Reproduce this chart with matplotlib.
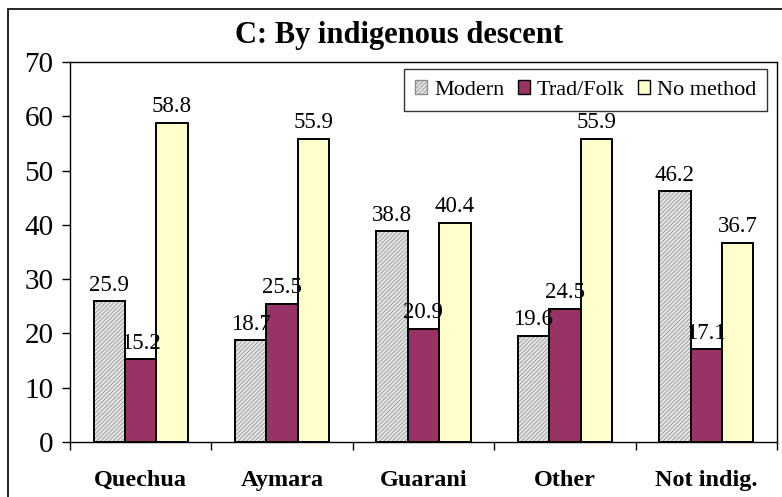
import matplotlib
matplotlib.use("Agg")
import matplotlib.pyplot as plt
from matplotlib.patches import Patch, Rectangle
import numpy as np

plt.rcParams['font.family'] = ['Liberation Serif', 'DejaVu Serif']
plt.rcParams['hatch.linewidth'] = 0.5

categories = ['Quechua', 'Aymara', 'Guarani', 'Other', 'Not indig.']
modern = [25.9, 18.7, 38.8, 19.6, 46.2]
trad = [15.2, 25.5, 20.9, 24.5, 17.1]
no_method = [58.8, 55.9, 40.4, 55.9, 36.7]
series_names = ['Modern', 'Trad/Folk', 'No method']

fig = plt.figure(figsize=(7.82, 4.97), dpi=100)
ax = fig.add_axes([70 / 782, 1 - 442 / 497, 707 / 782, 380 / 497])

# outer chart border
fig.patches.append(Rectangle((8 / 782, -0.05), 1.0, 1 - 9 / 497 + 0.05,
                             transform=fig.transFigure, fill=False,
                             edgecolor='black', linewidth=1.2))

x = np.arange(len(categories))
w = 1 / 4.5
hatch = '////////'

# modern: hatched grey
ax.bar(x - w, modern, w, color='#e4e4e4', edgecolor='#8c8c8c', hatch=hatch,
       linewidth=0, zorder=2)
ax.bar(x - w, modern, w, fill=False, edgecolor='black', linewidth=1.4, zorder=3)
ax.bar(x, trad, w, color='#993366', edgecolor='black', linewidth=1.4, zorder=3)
ax.bar(x + w, no_method, w, color='#ffffcc', edgecolor='black', linewidth=1.4, zorder=3)

for off, vals in zip([-w, 0, w], [modern, trad, no_method]):
    for xi, v in zip(x, vals):
        ax.annotate(f'{v:.1f}', (xi + off, v), xytext=(0, 4), textcoords='offset points',
                    ha='center', va='bottom', fontsize=16.5, zorder=5)

ax.set_xlim(-0.5, len(categories) - 0.5)
ax.set_ylim(0, 70)
ax.set_yticks(range(0, 71, 10))
ax.tick_params(axis='y', labelsize=21, direction='out', length=6, width=1, pad=6)
ax.set_xticks(np.arange(-0.5, len(categories), 1))
ax.set_xticklabels([])
ax.set_xticks(x, minor=True)
ax.set_xticklabels(categories, minor=True, fontsize=17.5, fontweight='bold')
ax.tick_params(axis='x', which='major', direction='out', length=6, width=1)
ax.tick_params(axis='x', which='minor', length=0, pad=20)
for s in ax.spines.values():
    s.set_linewidth(1)

fig.text(399 / 782, 1 - 36 / 497, 'C: By indigenous descent', ha='center', va='center',
         fontsize=22, fontweight='bold')

handles = [
    Patch(facecolor='#e4e4e4', edgecolor='#8c8c8c', hatch=hatch, label='Modern'),
    Patch(facecolor='#993366', edgecolor='black', label='Trad/Folk'),
    Patch(facecolor='#ffffcc', edgecolor='black', label='No method'),
]
leg = ax.legend(handles=handles, ncol=3, loc='upper right',
                bbox_to_anchor=(767 / 782, 1 - 69 / 497), bbox_transform=fig.transFigure,
                fontsize=16, frameon=True, fancybox=False, edgecolor='black',
                handlelength=0.55, handleheight=0.55, handletextpad=0.3,
                columnspacing=0.6, borderpad=0.5, borderaxespad=0)
leg.get_frame().set_linewidth(1)
leg.set_zorder(6)

fig.savefig('out.png', dpi=100)
